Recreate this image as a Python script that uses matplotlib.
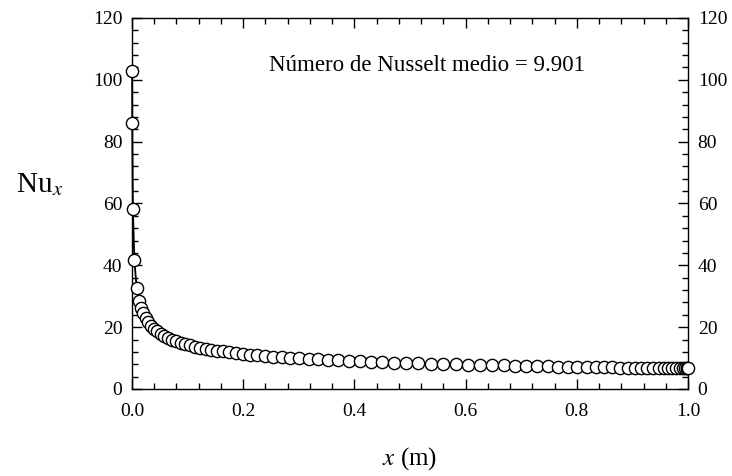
import matplotlib
matplotlib.use('Agg')
import matplotlib.pyplot as plt
from matplotlib.ticker import MultipleLocator, AutoMinorLocator

plt.rcParams.update({
    'font.family': ['Liberation Serif', 'DejaVu Serif'],
    'mathtext.fontset': 'stix',
    'xtick.direction': 'in',
    'ytick.direction': 'in',
})

# local Nusselt number (grid is packed near both ends)
x_m = [0.00027, 0.00047, 0.0016, 0.0043, 0.0083, 0.0126,
       0.01619, 0.02014, 0.02446, 0.02914, 0.03417, 0.03957, 0.04532, 0.05144,
       0.05791, 0.06475, 0.07194, 0.07950, 0.08741, 0.09568, 0.10432, 0.11331,
       0.12266, 0.13237, 0.14245, 0.15288, 0.16367, 0.17500, 0.18687, 0.19928,
       0.21223, 0.22572, 0.23975, 0.25432, 0.26942, 0.28507, 0.30126, 0.31799,
       0.33525, 0.35306, 0.37140, 0.39029, 0.40971, 0.42968, 0.45018, 0.47122,
       0.49281, 0.51475, 0.53705, 0.55953, 0.58201, 0.60432, 0.62626, 0.64784,
       0.66888, 0.68939, 0.70917, 0.72860, 0.74748, 0.76583, 0.78363, 0.80090,
       0.81763, 0.83381, 0.84928, 0.86403, 0.87806, 0.89137, 0.90396, 0.91583,
       0.92698, 0.93741, 0.94712, 0.95612, 0.96439, 0.97194, 0.97878, 0.98489,
       0.99029, 0.99496, 0.99730, 0.99892, 1.0]
nu_x = [103.0, 86.0, 58.2, 41.7, 32.8, 28.5,
        26.28, 24.44, 22.92, 21.61, 20.49, 19.51, 18.65, 17.89,
        17.19, 16.56, 15.99, 15.47, 14.98, 14.54, 14.12, 13.74,
        13.39, 13.05, 12.73, 12.44, 12.16, 11.89, 11.63, 11.39,
        11.15, 10.92, 10.71, 10.49, 10.30, 10.11, 9.92, 9.74,
        9.57, 9.41, 9.25, 9.10, 8.95, 8.81, 8.68, 8.55,
        8.42, 8.30, 8.18, 8.07, 7.96, 7.87, 7.77, 7.68,
        7.60, 7.53, 7.46, 7.39, 7.33, 7.27, 7.21, 7.16,
        7.11, 7.07, 7.02, 6.98, 6.94, 6.91, 6.88, 6.85,
        6.82, 6.80, 6.77, 6.75, 6.73, 6.71, 6.70, 6.68,
        6.67, 6.66, 6.66, 6.65, 6.65]
nu_mean = 9.901

fig = plt.figure(figsize=(7.32, 4.76), dpi=100)
ax = fig.add_axes([0.1803, 0.1828, 0.7596, 0.7794])

ax.plot(x_m, nu_x, 'k-', lw=1.3, marker='o', ms=8.8, mfc='white', mec='black',
        mew=1.0, clip_on=False, zorder=3)

ax.set_xlim(0, 1.0)
ax.set_ylim(0, 120)
ax.xaxis.set_major_locator(MultipleLocator(0.2))
ax.xaxis.set_minor_locator(AutoMinorLocator(5))
ax.yaxis.set_major_locator(MultipleLocator(20))
ax.yaxis.set_minor_locator(AutoMinorLocator(5))
ax.xaxis.set_major_formatter(lambda v, p: f'{v:.1f}')
ax.tick_params(which='both', top=True, right=True, labelright=True, labelsize=14,
               width=1.0)
ax.tick_params(axis='x', pad=10)
ax.tick_params(axis='y', pad=7)
ax.tick_params(which='major', length=7)
ax.tick_params(which='minor', length=4)
for s in ax.spines.values():
    s.set_linewidth(1.0)

ax.set_xlabel(r'$x$ (m)', fontsize=18, labelpad=18)
ax.set_ylabel(r'Nu$_x$', fontsize=21, rotation=0, va='center', ha='center')
ax.yaxis.set_label_coords(-0.167, 0.55)

ax.text(0.53, 104.5, f'Número de Nusselt medio = {nu_mean:.3f}', fontsize=16.5,
        ha='center', va='center')

fig.savefig('out.png', dpi=100)
